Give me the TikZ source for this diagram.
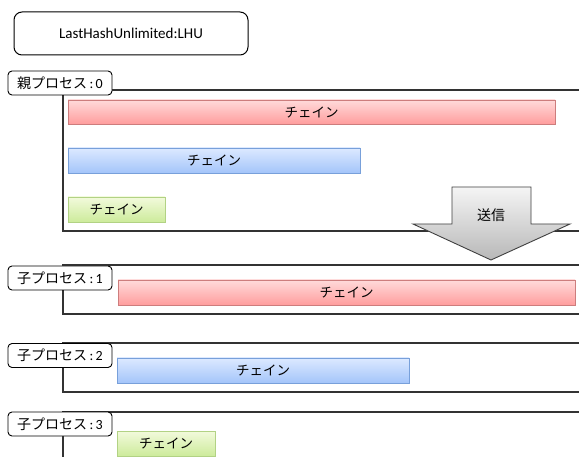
\documentclass[tikz,border=0pt]{standalone}
\usepackage{fontspec}
\setmainfont{Carlito}
\newfontfamily\cjk{Noto Sans CJK JP}
\usetikzlibrary{shadows}
\tikzset{
  frameline/.style={draw=black!80, line width=1.3pt},
  plabel/.style={draw=black, line width=0.9pt, fill=white, rounded corners=4pt,
    minimum width=104pt, minimum height=24pt, inner sep=0pt, font=\fontsize{14}{16}\selectfont},
  chainbox/.style={line width=0.8pt, inner sep=0pt, font=\cjk\fontsize{13.5}{16}\selectfont,
    drop shadow={opacity=0.18, shadow xshift=1pt, shadow yshift=-1pt}},
  chainred/.style={chainbox, draw={rgb,255:red,205;green,125;blue,125}, top color={rgb,255:red,255;green,218;blue,218}, bottom color={rgb,255:red,255;green,158;blue,158}},
  chainblue/.style={chainbox, draw={rgb,255:red,120;green,160;blue,218}, top color={rgb,255:red,220;green,233;blue,255}, bottom color={rgb,255:red,164;green,197;blue,250}},
  chaingreen/.style={chainbox, draw={rgb,255:red,178;green,210;blue,132}, top color={rgb,255:red,242;green,250;blue,220}, bottom color={rgb,255:red,205;green,235;blue,155}},
  sendarrow/.style={draw=black!75, line width=0.9pt, top color=black!4, bottom color=black!28},
}
\begin{document}
\begin{tikzpicture}[x=1pt, y=-1pt]
\clip (0,0) rectangle (579,457);
\fill[white] (0,0) rectangle (579,457);

% title box
\node[draw=black, line width=1pt, rounded corners=8pt, minimum width=234pt, minimum height=43pt,
  inner sep=0pt, font=\fontsize{15}{18}\selectfont] (lhu) at (131,33.5) {LastHashUnlimited:LHU};

% parent process
\draw[frameline] (63,90) rectangle (600,231);
\node[plabel] (parent) at (60,83) {{\cjk 親プロセス}\,:\,0};
\node[chainred, minimum width=487pt, minimum height=24pt] (pc1) at (311.5,112) {チェイン};
\node[chainblue, minimum width=292pt, minimum height=25pt] (pc2) at (214,160.5) {チェイン};
\node[chaingreen, minimum width=97pt, minimum height=25pt] (pc3) at (116.5,209.5) {チェイン};

% send arrow
\draw[sendarrow] (452,187) -- (531,187) -- (531,224) -- (570,224) -- (491,260) -- (413,224) -- (452,224) -- cycle;
\node[font=\cjk\fontsize{14}{16}\selectfont] (send) at (491,215) {送信};

% child 1
\draw[frameline] (63,265) rectangle (600,314);
\node[plabel] (child1) at (60,278) {{\cjk 子プロセス}\,:\,1};
\node[chainred, minimum width=457pt, minimum height=25pt] (cc1) at (346.5,292.5) {チェイン};

% child 2
\draw[frameline] (63,343) rectangle (600,392);
\node[plabel] (child2) at (60,355.5) {{\cjk 子プロセス}\,:\,2};
\node[chainblue, minimum width=292pt, minimum height=25pt] (cc2) at (263,370.5) {チェイン};

% child 3
\draw[frameline] (63,412) rectangle (600,480);
\node[plabel] (child3) at (60,424) {{\cjk 子プロセス}\,:\,3};
\node[chaingreen, minimum width=98pt, minimum height=25pt] (cc3) at (166,443.5) {チェイン};
\end{tikzpicture}
\end{document}
